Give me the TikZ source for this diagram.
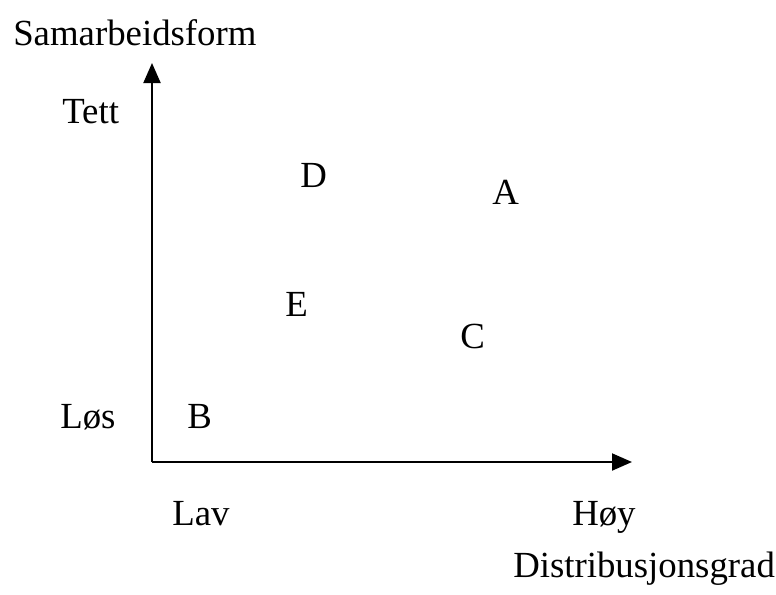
\documentclass[tikz,border=0pt]{standalone}
\usepackage{fontspec}
\setmainfont{Liberation Serif}
\usetikzlibrary{arrows.meta}

\begin{document}
\begin{tikzpicture}[x=0.75pt,y=-0.75pt,
    every node/.style={font=\fontsize{27.6}{32}\selectfont,inner sep=0pt,anchor=base west},
    axis/.style={line width=1.5pt,-{Triangle[length=15pt,width=12.75pt]}}]
    \useasboundingbox (0,0) rectangle (776,594);
    \coordinate (o) at (152,462);
    \coordinate (ytip) at (152,63);
    \coordinate (xtip) at (632,462);
    \draw[axis] (o) -- (ytip);
    \draw[axis] (o) -- (xtip);
    % axis labels
    \node (samarbeid) at (13,45) {Samarbeidsform};
    \node (tett) at (62,123) {Tett};
    \node (los) at (60,428) {Løs};
    \node (lav) at (172,525) {Lav};
    \node (hoy) at (572,525) {Høy};
    \node (distr) at (513,577) {Distribusjonsgrad};
    % cases
    \node (d) at (300,187) {D};
    \node (a) at (492,204) {A};
    \node (e) at (285,316) {E};
    \node (c) at (460,348) {C};
    \node (b) at (187,428) {B};
  \end{tikzpicture}
\end{document}
